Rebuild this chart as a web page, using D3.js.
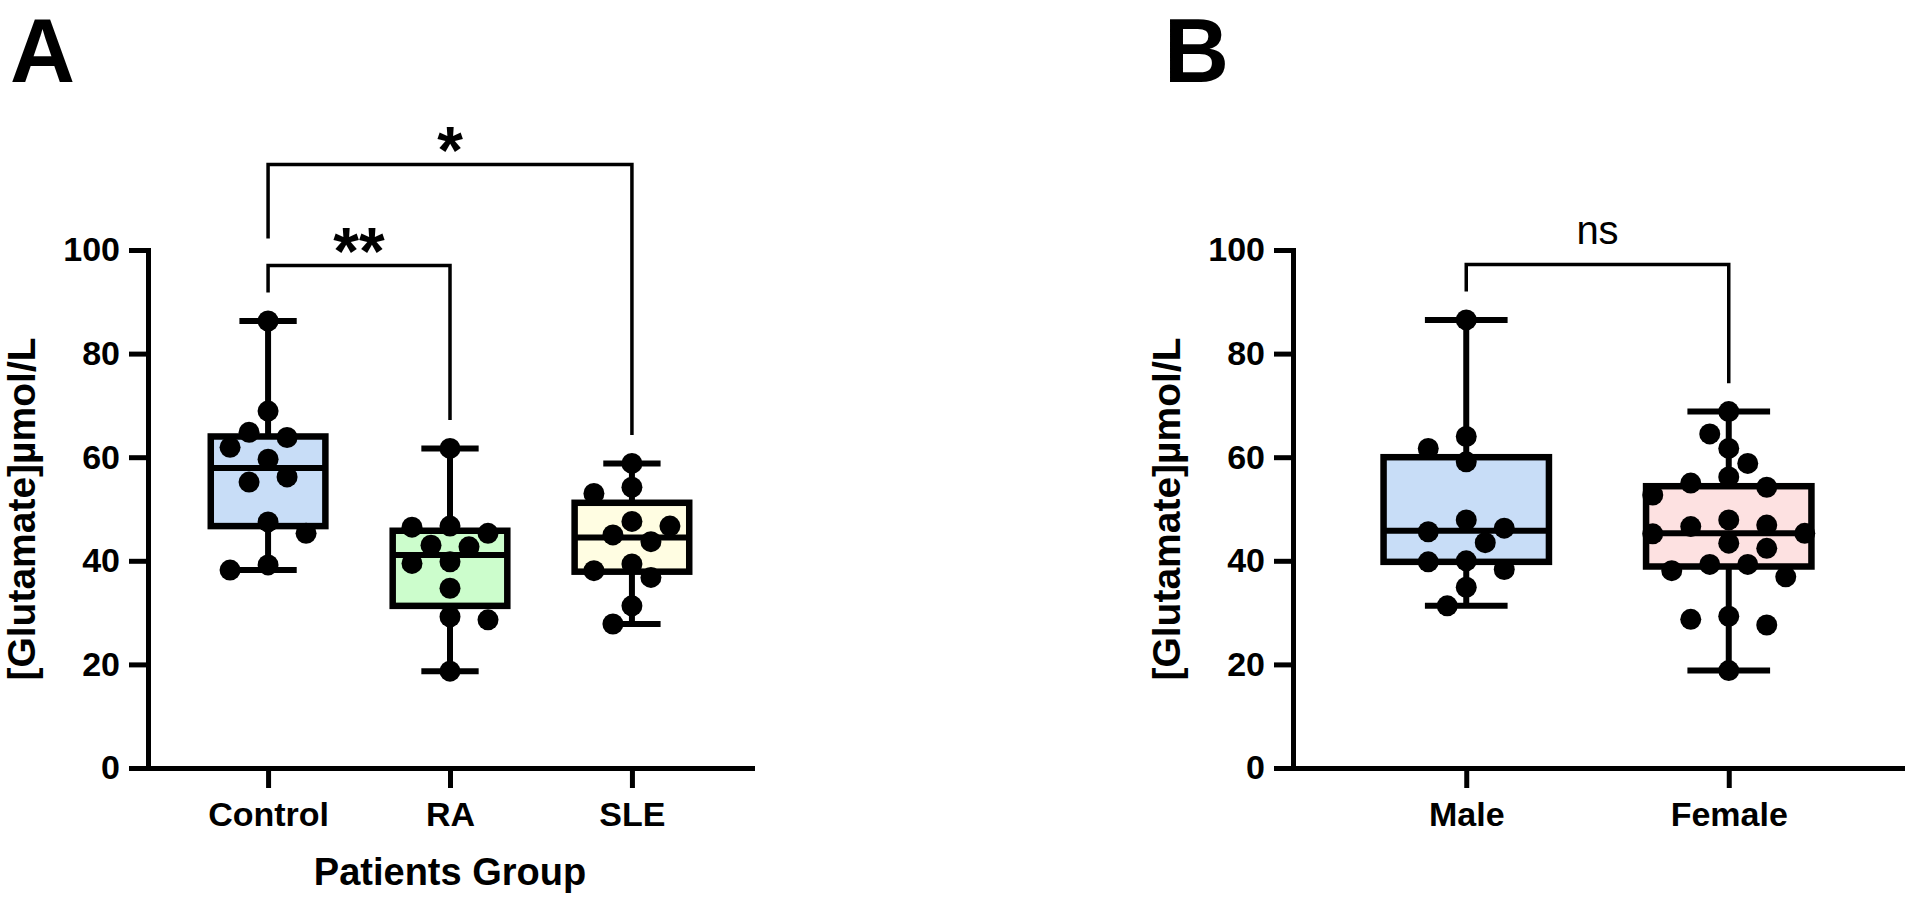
<!DOCTYPE html>
<html>
<head>
<meta charset="utf-8">
<script src="https://cdn.jsdelivr.net/npm/d3@7"></script>
<style>
  body { margin: 0; background: #fff; }
  svg { display: block; }
</style>
</head>
<body>
<div id="chart"></div>
<script>
// values (umol/L)
var groupsA = ["Control", "RA", "SLE"];
var control = [86.3, 68.9, 64.8, 63.8, 61.9, 59.6, 56.2, 55.2, 47.5, 45.3, 39.2, 38.2];
var ra      = [61.7, 46.7, 46.5, 45.3, 43.0, 42.7, 39.8, 39.5, 34.7, 29.2, 28.6, 18.7];
var sle     = [58.8, 54.2, 53.0, 47.6, 46.7, 45.0, 43.7, 39.4, 38.1, 36.8, 31.3, 27.8];
var q1A  = [46.7, 31.3, 37.9];
var medA = [57.9, 41.1, 44.5];
var q3A  = [64.0, 45.8, 51.2];
var pairsA = [["Control", "RA"], ["Control", "SLE"]];
var sigA   = ["**", "*"];

var groupsB = ["Male", "Female"];
var male   = [86.5, 64.0, 61.7, 59.1, 47.9, 46.3, 45.6, 43.5, 40.0, 39.8, 38.3, 34.9, 31.3];
var female = [68.8, 64.5, 61.7, 58.8, 56.2, 55.0, 54.2, 52.7, 47.9, 46.9, 46.6, 45.3, 45.2,
              43.4, 42.4, 39.3, 39.3, 38.1, 36.9, 29.3, 28.7, 27.6, 18.8];
var q1B  = [39.8, 38.9];
var medB = [45.8, 45.3];
var q3B  = [60.0, 54.4];
var pairsB = [["Male", "Female"]];
var sigB   = ["ns"];

var yTicks = [0, 20, 40, 60, 80, 100];
var yTitle = "[Glutamate]\u00b5mol/L";

var font = "'Liberation Sans', Arial, Helvetica, sans-serif";

var svg = d3.select("#chart").append("svg")
  .attr("width", 1907)
  .attr("height", 897)
  .style("font-family", font);

var yScale = d3.scaleLinear().domain([0, 100]).range([768, 250]);

// simple beeswarm: columns spaced by about a dot radius, nearest free slot
function swarm(values, r, step) {
  var placed = [];
  var sorted = values.slice().sort(function(a, b) { return b - a; });
  var left = 0, right = 0;
  sorted.forEach(function(v) {
    var py = yScale(v);
    var dx = null;
    for (var k = 0; k < 12 && dx === null; k++) {
      var cands = k === 0 ? [0] : (left <= right ? [-k * step, k * step] : [k * step, -k * step]);
      for (var c = 0; c < cands.length; c++) {
        var ok = placed.every(function(p) { return Math.hypot(p.dx - cands[c], p.y - py) >= 2 * r + 2; });
        if (ok) { dx = cands[c]; break; }
      }
    }
    if (dx < 0) left++;
    if (dx > 0) right++;
    placed.push({v: v, y: py, dx: dx});
  });
  return placed;
}

function panel(o) {
  var x = d3.scalePoint().domain(o.groups).range(o.xRange).padding(0.66);
  var step = x.step();
  var boxW = step * 0.63;
  var g = svg.append("g");

  // axes
  var ax = g.append("g")
    .attr("transform", "translate(" + o.xRange[0] + ",0)")
    .call(d3.axisLeft(yScale).tickValues(yTicks).tickSize(19).tickPadding(9).tickSizeOuter(0));
  var bx = g.append("g")
    .attr("transform", "translate(0,768)")
    .call(d3.axisBottom(x).tickSize(20).tickPadding(14).tickSizeOuter(0));
  [ax, bx].forEach(function(a) {
    a.select(".domain").style("stroke", "#000").style("stroke-width", 5).style("stroke-linecap", "square");
    a.selectAll(".tick line").style("stroke", "#000").style("stroke-width", 5);
    a.selectAll(".tick text")
      .style("font-family", font)
      .style("font-size", "34px")
      .style("font-weight", "bold")
      .style("fill", "#000");
  });

  // boxes
  o.groups.forEach(function(name, i) {
    var vals = o.series[i];
    var cx = x(name);
    var lo = d3.min(vals), hi = d3.max(vals);
    var bg = g.append("g");
    bg.append("rect")
      .attr("x", cx - boxW / 2)
      .attr("y", yScale(o.q3[i]))
      .attr("width", boxW)
      .attr("height", yScale(o.q1[i]) - yScale(o.q3[i]))
      .style("fill", o.fills[i])
      .style("stroke", "#000")
      .style("stroke-width", 6.5);
    var lines = [
      [cx, yScale(o.q3[i]), cx, yScale(hi)],
      [cx, yScale(o.q1[i]), cx, yScale(lo)],
      [cx - boxW / 4, yScale(hi), cx + boxW / 4, yScale(hi)],
      [cx - boxW / 4, yScale(lo), cx + boxW / 4, yScale(lo)],
      [cx - boxW / 2, yScale(o.med[i]), cx + boxW / 2, yScale(o.med[i])]
    ];
    bg.selectAll("line").data(lines).enter().append("line")
      .attr("x1", function(d) { return d[0]; })
      .attr("y1", function(d) { return d[1]; })
      .attr("x2", function(d) { return d[2]; })
      .attr("y2", function(d) { return d[3]; })
      .style("stroke", "#000")
      .style("stroke-width", 6);

    bg.selectAll("circle").data(swarm(vals, 10.5, 19)).enter().append("circle")
      .attr("cx", function(d) { return cx + d.dx; })
      .attr("cy", function(d) { return d.y; })
      .attr("r", 10.5)
      .style("fill", "#000");
  });

  // significance brackets
  var top = d3.max(o.series, function(s) { return d3.max(s); });
  var legTop = {};
  o.groups.forEach(function(name, i) { legTop[name] = d3.max(o.series[i]); });
  o.pairs.forEach(function(p, i) {
    var level = top + 10.7 + i * 19.5;
    var ya = yScale(level);
    var ea = yScale(legTop[p[0]] + 5.5), eb = yScale(legTop[p[1]] + 5.5);
    g.append("path")
      .attr("d", "M" + x(p[0]) + "," + ea + "V" + ya + "H" + x(p[1]) + "V" + eb)
      .style("fill", "none")
      .style("stroke", "#000")
      .style("stroke-width", 3.5);
    legTop[p[0]] = Math.max(legTop[p[0]], level - 0.3);
    legTop[p[1]] = Math.max(legTop[p[1]], level - 0.3);
    var isNs = o.sig[i] === "ns";
    g.append("text")
      .attr("x", (x(p[0]) + x(p[1])) / 2)
      .attr("y", isNs ? ya - 21 : ya + 8)
      .attr("text-anchor", "middle")
      .style("font-size", isNs ? "40px" : "66px")
      .style("font-weight", isNs ? "normal" : "bold")
      .text(o.sig[i]);
  });

  // titles
  g.append("text")
    .attr("transform", "translate(" + (o.xRange[0] - 113) + "," + yScale(50) + ") rotate(-90)")
    .attr("text-anchor", "middle")
    .style("font-size", "39px")
    .style("font-weight", "bold")
    .text(yTitle);

  if (o.xTitle) {
    g.append("text")
      .attr("x", (o.xRange[0] + o.xRange[1]) / 2)
      .attr("y", 885)
      .attr("text-anchor", "middle")
      .style("font-size", "38px")
      .style("font-weight", "bold")
      .text(o.xTitle);
  }

  g.append("text")
    .attr("x", o.letterX)
    .attr("y", 82)
    .style("font-size", "90px")
    .style("font-weight", "bold")
    .text(o.letter);
}

panel({
  groups: groupsA, series: [control, ra, sle],
  q1: q1A, med: medA, q3: q3A,
  pairs: pairsA, sig: sigA,
  xRange: [148, 752],
  fills: ["#c8ddf7", "#ccfdcc", "#fffde2"],
  xTitle: "Patients Group",
  letter: "A", letterX: 10
});

panel({
  groups: groupsB, series: [male, female],
  q1: q1B, med: medB, q3: q3B,
  pairs: pairsB, sig: sigB,
  xRange: [1293, 1902],
  fills: ["#c8ddf7", "#fde1e1"],
  xTitle: null,
  letter: "B", letterX: 1164
});
</script>
</body>
</html>
